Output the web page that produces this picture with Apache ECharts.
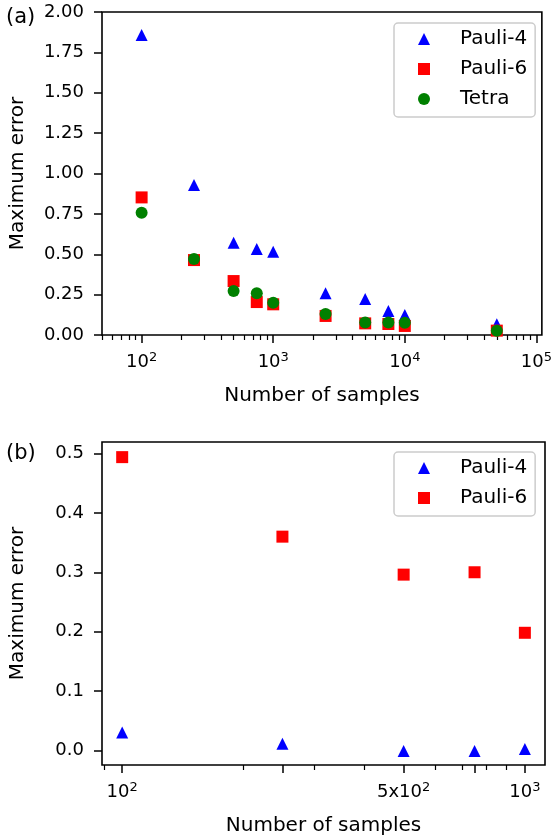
<!DOCTYPE html>
<html>
<head>
<meta charset="utf-8">
<script src="https://cdn.jsdelivr.net/npm/echarts@6/dist/echarts.min.js"></script>
<style>
    html, body {margin: 0; padding: 0; background: #fff;}
    #max_error_chart {width: 555px; height: 838px;}
</style>
</head>
<body>
<div id="max_error_chart"></div>
<script>
// (a) 样本数与最大误差
var samplesA = [100, 250, 500, 750, 1000, 2500, 5000, 7500, 10000, 50000];
var pauli4A = [1.857, 0.929, 0.571, 0.532, 0.516, 0.258, 0.223, 0.149, 0.124, 0.066];
var pauli6A = [0.852, 0.464, 0.334, 0.204, 0.190, 0.118, 0.072, 0.068, 0.056, 0.027];
var tetraA = [0.757, 0.470, 0.272, 0.258, 0.200, 0.130, 0.078, 0.078, 0.076, 0.027];

// (b)
var samplesB = [100, 250, 500, 750, 1000];
var pauli4B = [0.030, 0.011, -0.001, -0.001, 0.002];
var pauli6B = [0.494, 0.360, 0.296, 0.300, 0.198];

// 刻度
var majorTicksA = [100, 1000, 10000, 100000];
var minorTicksA = [50, 60, 70, 80, 90, 200, 300, 400, 500, 600, 700, 800, 900,
    2000, 3000, 4000, 5000, 6000, 7000, 8000, 9000,
    20000, 30000, 40000, 50000, 60000, 70000, 80000, 90000];
var majorTicksB = [100, 250, 500, 750, 1000];
var labelTicksB = {100: '10{sup|2}', 500: '5x10{sup|2}', 1000: '10{sup|3}'};
var minorTicksB = [90, 200, 300, 400, 600, 700, 800, 900];
var yTicksB = [0, 0.1, 0.2, 0.3, 0.4, 0.5];

var FONT = 'DejaVu Sans';
var FS = 18;     // 刻度字号
var FS_L = 20;   // 轴名、图例字号

function pairs(xs, ys) {
    return xs.map(function (x, i) {
        return [x, ys[i]];
    });
}

function powLabel(v) {
    return '10{sup|' + Math.round(Math.log10(v)) + '}';
}

var richSup = {
    sup: {fontSize: 13, fontFamily: FONT, color: '#000', verticalAlign: 'top', lineHeight: 14}
};

function majorXAxis(grid, min, max, ticks, formatter) {
    return {
        type: 'log',
        gridIndex: grid,
        min: min,
        max: max,
        position: 'bottom',
        name: 'Number of samples',
        nameLocation: 'middle',
        nameGap: 51,
        nameTextStyle: {fontSize: FS_L, fontFamily: FONT, color: '#000'},
        axisLine: {show: false, onZero: false},
        splitLine: {show: false},
        axisTick: {show: true, customValues: ticks, length: 8, lineStyle: {color: '#000', width: 1.5}},
        axisLabel: {
            customValues: ticks,
            margin: 16,
            fontSize: FS,
            fontFamily: FONT,
            color: '#000',
            lineHeight: 22,
            formatter: formatter,
            rich: richSup
        }
    };
}

function minorXAxis(grid, min, max, ticks) {
    return {
        type: 'log',
        gridIndex: grid,
        min: min,
        max: max,
        position: 'bottom',
        axisLine: {show: false, onZero: false},
        splitLine: {show: false},
        axisLabel: {show: false},
        axisTick: {show: true, customValues: ticks, length: 5, lineStyle: {color: '#000', width: 1.2}}
    };
}

function yAxisOf(grid, opt) {
    var axis = {
        type: 'value',
        gridIndex: grid,
        name: 'Maximum error',
        nameLocation: 'middle',
        nameGap: 74,
        nameTextStyle: {fontSize: FS_L, fontFamily: FONT, color: '#000'},
        axisLine: {show: false, onZero: false},
        splitLine: {show: false},
        axisTick: {show: true, length: 8, lineStyle: {color: '#000', width: 1.5}},
        axisLabel: {margin: 18, fontSize: FS, fontFamily: FONT, color: '#000'}
    };
    for (var k in opt) {
        if (k === 'axisTick' || k === 'axisLabel') {
            Object.assign(axis[k], opt[k]);
        } else {
            axis[k] = opt[k];
        }
    }
    return axis;
}

function legendOf(top, names) {
    return {
        orient: 'vertical',
        left: 394,
        top: top,
        padding: [6, 8, 8, 24],
        itemGap: 10,
        itemWidth: 12,
        itemHeight: 12,
        backgroundColor: '#fff',
        borderColor: '#cccccc',
        borderWidth: 1.5,
        borderRadius: 4,
        textStyle: {fontSize: FS_L, fontFamily: FONT, color: '#000', padding: [0, 0, 0, 25], lineHeight: 20},
        data: names
    };
}

function scatter(name, symbol, color, x, y, idx) {
    return {
        name: name,
        type: 'scatter',
        xAxisIndex: idx,
        yAxisIndex: idx,
        symbol: symbol,
        symbolSize: 12,
        itemStyle: {color: color, opacity: 1},
        data: pairs(x, y)
    };
}

/**
 * 最大误差图表
 */
function maxErrorChart() {
    var myChart = echarts.init(document.getElementById('max_error_chart'));
    var titleStyle = {fontSize: 21, fontWeight: 'normal', fontFamily: FONT, color: '#000'};
    var option = {
        animation: false,
        backgroundColor: '#fff',
        title: [
            {text: '(a)', left: 6, top: 7, padding: 0, textStyle: titleStyle},
            {text: '(b)', left: 6, top: 443, padding: 0, textStyle: titleStyle}
        ],
        grid: [
            {left: 102, top: 12, width: 443, height: 323, show: true, borderColor: '#000', borderWidth: 1.6, backgroundColor: 'transparent'},
            {left: 102, top: 442, width: 443, height: 323, show: true, borderColor: '#000', borderWidth: 1.6, backgroundColor: 'transparent'}
        ],
        legend: [
            legendOf(23, ['Pauli-4', 'Pauli-6', 'Tetra']),
            legendOf(452, ['Pauli-4', 'Pauli-6'])
        ],
        xAxis: [
            majorXAxis(0, 50, 110000, majorTicksA, powLabel),
            majorXAxis(1, 89.1, 1122, majorTicksB, function (v) {
                return labelTicksB[Math.round(v)] || '';
            }),
            minorXAxis(0, 50, 110000, minorTicksA),
            minorXAxis(1, 89.1, 1122, minorTicksB)
        ],
        yAxis: [
            yAxisOf(0, {
                min: 0, max: 2, interval: 0.25,
                axisLabel: {formatter: function (v) { return v.toFixed(2); }}
            }),
            yAxisOf(1, {
                min: -0.0248, max: 0.5195,
                axisTick: {customValues: yTicksB},
                axisLabel: {customValues: yTicksB, formatter: function (v) { return v.toFixed(1); }}
            })
        ],
        series: [
            scatter('Pauli-4', 'triangle', '#0000ff', samplesA, pauli4A, 0),
            scatter('Pauli-6', 'rect', '#ff0000', samplesA, pauli6A, 0),
            scatter('Tetra', 'circle', '#008000', samplesA, tetraA, 0),
            scatter('Pauli-4', 'triangle', '#0000ff', samplesB, pauli4B, 1),
            scatter('Pauli-6', 'rect', '#ff0000', samplesB, pauli6B, 1)
        ]
    };
    myChart.setOption(option, true);
}

maxErrorChart();
</script>
</body>
</html>
